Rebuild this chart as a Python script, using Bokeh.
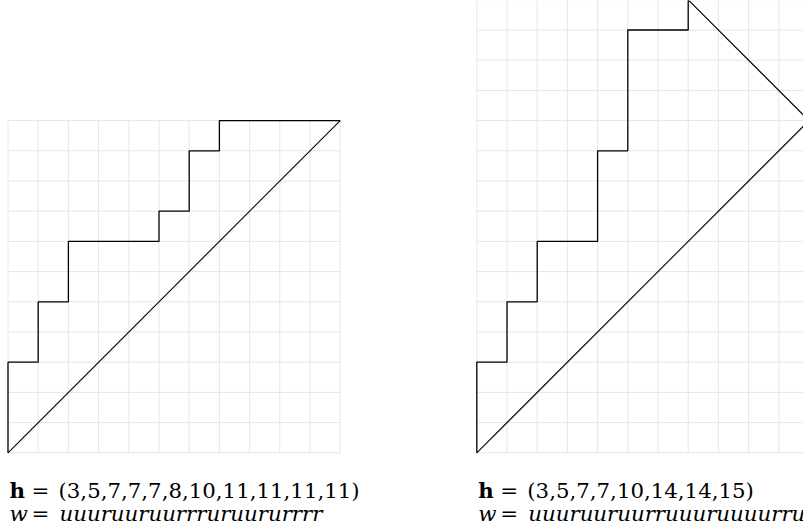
from bokeh.plotting import figure
from bokeh.layouts import row
from bokeh.models import Range1d, Label
from bokeh.embed import file_html
from bokeh.resources import INLINE

# ---- data ----
left_heights = [3, 5, 7, 7, 7, 8, 10, 11, 11, 11, 11]
left_word = "uuuruuruurrruruururrrr"
left_grid = (11, 11)
left_end = (11, 11)

right_heights = [3, 5, 7, 7, 10, 14, 14, 15]
right_word = "uuuruuruurruuuruuuurrur"
right_grid = (15, 15)
right_end = (11, 11)

CELL = 30.2
H = 531
ORIGIN_FROM_TOP = 452.3  # px within figure
FONT = "DejaVu Serif"
FS = "21.3px"
Y_H = -(489.5 - 452.3) / CELL
Y_W = -(513 - 452.3) / CELL


def staircase(heights):
    xs, ys = [0], [0]
    for i, h in enumerate(heights):
        xs.append(i)
        ys.append(h)
        if i < len(heights) - 1:
            xs.append(i + 1)
            ys.append(h)
    return xs, ys


def lab(p, y, off, text, style="normal"):
    p.add_layout(Label(x=0, y=y, x_offset=off, text=text, text_font=FONT, text_font_size=FS,
                       text_font_style=style, text_color="black", text_baseline="alphabetic"))


def make_panel(width, x_pad, heights, word, grid, end, last_horizontal):
    x0 = -x_pad / CELL
    y0 = -(H - ORIGIN_FROM_TOP) / CELL
    p = figure(width=width, height=H, output_backend="svg", toolbar_location=None,
               x_range=Range1d(x0, x0 + width / CELL),
               y_range=Range1d(y0, y0 + H / CELL),
               min_border=0)
    p.axis.visible = False
    p.grid.visible = False
    p.outline_line_color = None
    p.background_fill_color = "white"
    nx, ny = grid
    p.segment(x0=list(range(nx + 1)), y0=[0] * (nx + 1), x1=list(range(nx + 1)), y1=[ny] * (nx + 1),
              line_color="#e6e6e6", line_width=1)
    p.segment(x0=[0] * (ny + 1), y0=list(range(ny + 1)), x1=[nx] * (ny + 1), y1=list(range(ny + 1)),
              line_color="#e6e6e6", line_width=1)
    xs, ys = staircase(heights)
    if last_horizontal:
        xs.append(len(heights))
        ys.append(heights[-1])
    p.line(xs, ys, line_color="black", line_width=1.3)
    p.line([xs[-1], end[0]], [ys[-1], end[1]], line_color="black", line_width=1.1)
    p.line([0, end[0]], [0, end[1]], line_color="black", line_width=1.1)
    hvals = ",".join(str(v) for v in heights)
    lab(p, Y_H, 1.5, "h", "bold")
    lab(p, Y_H, 23.5, "=")
    lab(p, Y_H, 50.5, "(" + hvals + ")")
    lab(p, Y_W, 1.5, "w", "italic")
    lab(p, Y_W, 23.5, "=")
    lab(p, Y_W, 51.5, word, "italic")
    return p


left = make_panel(470, 7.5, left_heights, left_word, left_grid, left_end, True)
right = make_panel(333, 6.3, right_heights, right_word, right_grid, right_end, False)

layout = row(left, right, spacing=0)
open("out.html", "w").write(file_html(layout, INLINE))
